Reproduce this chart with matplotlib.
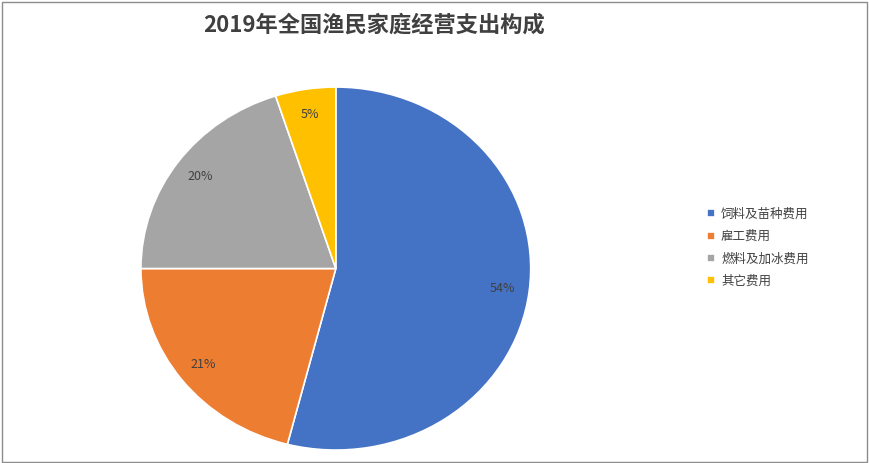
import matplotlib
matplotlib.use("Agg")
import matplotlib.pyplot as plt
from matplotlib.patches import Rectangle

plt.rcParams['font.family'] = ['Noto Sans CJK SC', 'DejaVu Sans']

categories = ['饲料及苗种费用', '雇工费用', '燃料及加冰费用', '其它费用']
values = [54, 21, 20, 5]
colors = ['#4472C4', '#ED7D31', '#A5A5A5', '#FFC000']

fig = plt.figure(figsize=(8.7, 4.63), dpi=100)
fig.patches.append(Rectangle((0.002, 0.003), 0.995, 0.993, transform=fig.transFigure,
                             fill=False, edgecolor='#8C8C8C', linewidth=1))
ax = fig.add_axes([0.162, 0.028, 0.448, 0.784])
wedges, texts, autotexts = ax.pie(values, colors=colors, startangle=90, counterclock=False,
                                  autopct='%d%%', pctdistance=0.86,
                                  wedgeprops=dict(edgecolor='white', linewidth=1.2),
                                  textprops=dict(fontsize=9, color='#404040'))
ax.set_aspect('auto')
ax.set_xlim(-1, 1)
ax.set_ylim(-1, 1)
fig.text(0.43, 0.945, '2019年全国渔民家庭经营支出构成', ha='center', va='center',
         fontsize=16, fontweight='bold', color='#404040')
fig.legend(wedges, categories, loc='center left', bbox_to_anchor=(0.8, 0.465),
           frameon=False, fontsize=9, handlelength=0.6, handleheight=0.6,
           labelspacing=0.75, handletextpad=0.5, labelcolor='#404040')
fig.savefig('out.png', dpi=100)
